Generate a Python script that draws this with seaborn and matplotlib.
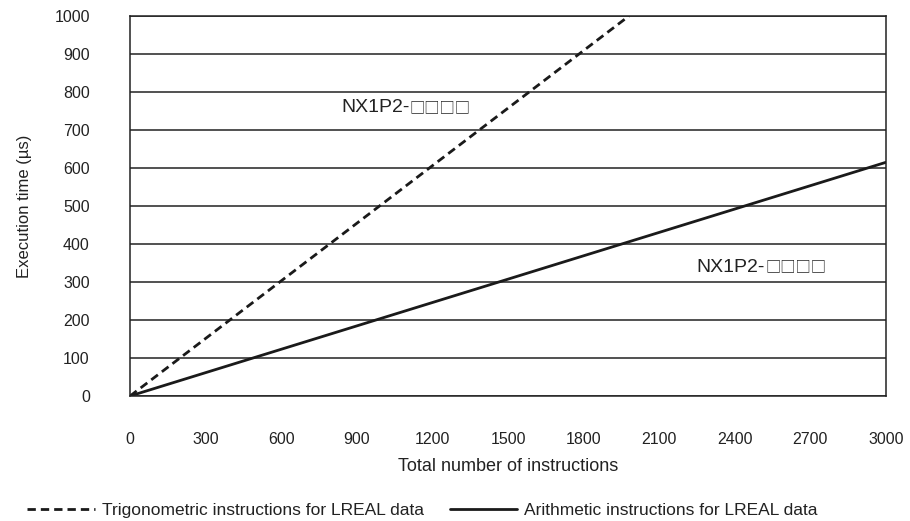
import pandas as pd
import seaborn as sns
import matplotlib.pyplot as plt

# Values (execution time grows linearly with instruction count)
series_names = ["Trigonometric instructions for LREAL data", "Arithmetic instructions for LREAL data"]
trig_x = [0, 1980]
trig_y = [0, 1000]
arith_x = [0, 3000]
arith_y = [0, 615]
x_ticks = [0, 300, 600, 900, 1200, 1500, 1800, 2100, 2400, 2700, 3000]
y_ticks = [0, 100, 200, 300, 400, 500, 600, 700, 800, 900, 1000]
model_prefix = "NX1P2-"
model_boxes = "\u25a1\u25a1\u25a1\u25a1"
label_pos = [(1111, 758), (2520, 339)]

df = pd.DataFrame({
    "instructions": trig_x + arith_x,
    "time": trig_y + arith_y,
    "series": [series_names[0]] * len(trig_x) + [series_names[1]] * len(arith_x),
})

sns.set_style("white")
plt.rcParams["font.family"] = ["Liberation Sans", "DejaVu Sans"]

fig = plt.figure(figsize=(9.1, 5.21), dpi=100)
ax = fig.add_axes([0.1429, 0.2399, 0.8307, 0.7294])

sns.lineplot(
    data=df,
    x="instructions",
    y="time",
    style="series",
    style_order=series_names,
    dashes={series_names[0]: (3, 1.8), series_names[1]: ""},
    color="#1a1a1a",
    linewidth=2,
    legend=False,
    ax=ax,
)

ax.set_xlim(0, 3000)
ax.set_ylim(0, 1000)
ax.set_xticks(x_ticks)
ax.set_yticks(y_ticks)

# horizontal grid only
ax.yaxis.grid(True, color="#222222", linewidth=1.1)
ax.xaxis.grid(False)
for s in ax.spines.values():
    s.set_color("#222222")
    s.set_linewidth(1.1)

ax.tick_params(axis="x", direction="in", length=10, width=1, color="#222222",
               pad=26, labelsize=11.5, labelcolor="#222222")
ax.tick_params(axis="y", length=0, pad=29, labelsize=11.5, labelcolor="#222222")

ax.set_xlabel("Total number of instructions", fontsize=13, color="#222222", labelpad=8)
ax.set_ylabel("Execution time (\u00b5s)", fontsize=12, color="#222222", labelpad=16)

# model name labels: prefix in the sans font, boxes full width
for lx, ly in label_pos:
    ax.text(lx, ly, model_prefix, ha="right", va="center", fontsize=14, color="#222222")
    ax.text(lx, ly, model_boxes, ha="left", va="center", fontsize=11,
            family=["Noto Sans CJK SC", "DejaVu Sans"], color="#222222")

# legend below the axes, built from the drawn lines
handles = ax.get_lines()[:2]
fig.legend(handles, series_names, loc="lower left", bbox_to_anchor=(0.022, -0.007),
           borderaxespad=0, ncol=2, frameon=False, fontsize=12.5, handlelength=3.9,
           columnspacing=1.5, handletextpad=0.4, labelcolor="#222222")

fig.savefig("out.png", dpi=100)
